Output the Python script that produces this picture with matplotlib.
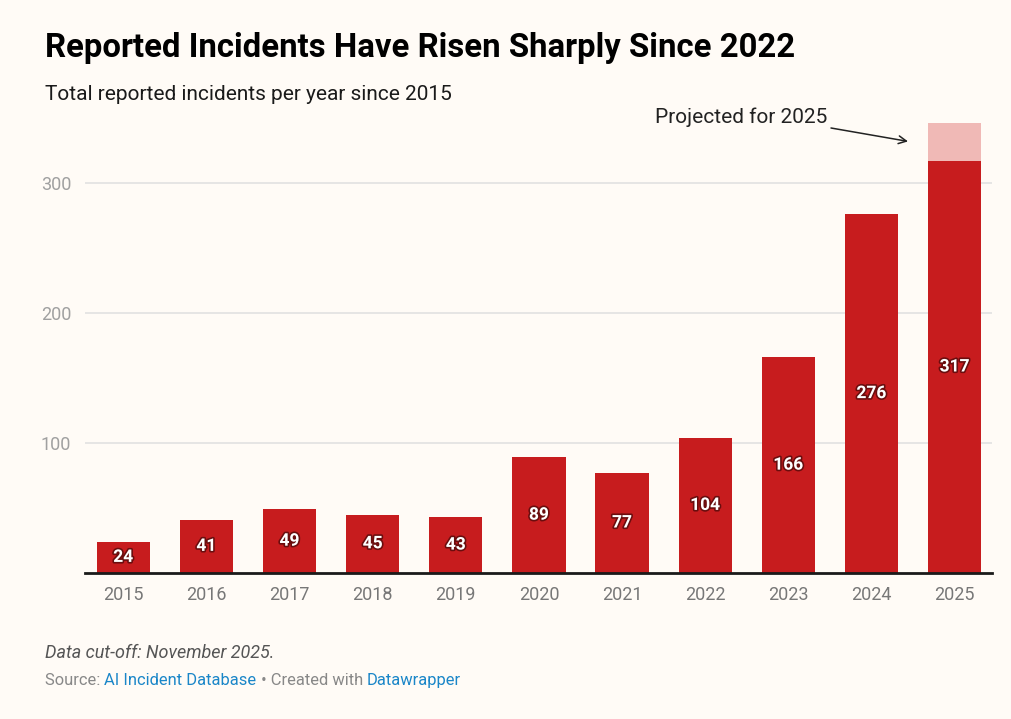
import matplotlib
matplotlib.use("Agg")
import matplotlib.pyplot as plt
import matplotlib.patheffects as pe

years = ["2015", "2016", "2017", "2018", "2019", "2020", "2021", "2022", "2023", "2024", "2025"]
incidents = [24, 41, 49, 45, 43, 89, 77, 104, 166, 276, 317]
projected_2025_total = 346
yticks = [100, 200, 300]

BG = "#fffbf6"
RED = "#c71c1e"
PINK = "#f0b9b6"

plt.rcParams['font.family'] = ['Roboto', 'DejaVu Sans']

W, H = 1012, 719
fig = plt.figure(figsize=(W / 100, H / 100), dpi=100, facecolor=BG)

def fx(px):
    return px / W

def fy(py):
    return 1 - py / H

ax_left, ax_right, ax_bottom, ymax = 85, 992, 573, 350
ax_top = ax_bottom - ymax * 1.3
ax = fig.add_axes([fx(ax_left), fy(ax_bottom), (ax_right - ax_left) / W, (ax_bottom - ax_top) / H])
ax.set_facecolor(BG)

x = list(range(len(years)))
ax.bar(x, incidents, width=0.64, color=RED, zorder=3)
ax.bar([x[-1]], [projected_2025_total - incidents[-1]], bottom=[incidents[-1]], width=0.64, color=PINK, zorder=3)

for xi, v in zip(x, incidents):
    ax.text(xi, v / 2, str(v), ha='center', va='center', color='white', fontsize=12.5,
            fontweight='bold', zorder=5,
            path_effects=[pe.withStroke(linewidth=2.4, foreground='#3a0606', alpha=0.65)])

ax.set_xlim(-0.46, 10.45)
ax.set_ylim(0, ymax)
ax.set_yticks(yticks)
ax.set_yticklabels([str(t) for t in yticks])
ax.set_xticks(x)
ax.set_xticklabels(years)
ax.grid(axis='y', color='#e1e1e1', linewidth=1.2, zorder=0)
for s in ['top', 'right', 'left']:
    ax.spines[s].set_visible(False)
ax.spines['bottom'].set_color('#1a1a1a')
ax.spines['bottom'].set_linewidth(2)
ax.spines['bottom'].set_zorder(4)
ax.tick_params(axis='x', length=0, labelsize=13, labelcolor='#777777', pad=9)
ax.tick_params(axis='y', length=0, labelsize=13, labelcolor='#a0a0a0', pad=10)

# Annotation
fig.text(fx(827), fy(117), "Projected for 2025", ha='right', va='center', fontsize=15,
         color='#222222')
ax.annotate("", xy=(9.44, 332), xycoords='data',
            xytext=(fx(831), fy(128)), textcoords='figure fraction',
            arrowprops=dict(arrowstyle='->', color='#222222', lw=1.1,
                            shrinkA=0, shrinkB=0, mutation_scale=14))

# Titles
fig.text(fx(45), fy(48), "Reported Incidents Have Risen Sharply Since 2022", fontsize=23.7,
         fontweight='bold', color='#000000', va='center', ha='left')
fig.text(fx(45), fy(95), "Total reported incidents per year since 2015", fontsize=15.05,
         color='#1a1a1a', va='center', ha='left')

# Footer
fig.text(fx(45), fy(652.5), "Data cut-off: November 2025.", fontsize=13, style='italic',
         color='#555555', va='center', ha='left')

fig.canvas.draw()
renderer = fig.canvas.get_renderer()
parts = [("Source: ", '#888888'), ("AI Incident Database", '#1a86c8'),
         (" \u2022 Created with ", '#888888'), ("Datawrapper", '#1a86c8')]
cur = 45
for txt, col in parts:
    t = fig.text(fx(cur), fy(680.5), txt, fontsize=11.9, color=col, va='center', ha='left')
    bb = t.get_window_extent(renderer=renderer)
    cur += bb.width

fig.savefig("out.png", dpi=100, facecolor=BG)
